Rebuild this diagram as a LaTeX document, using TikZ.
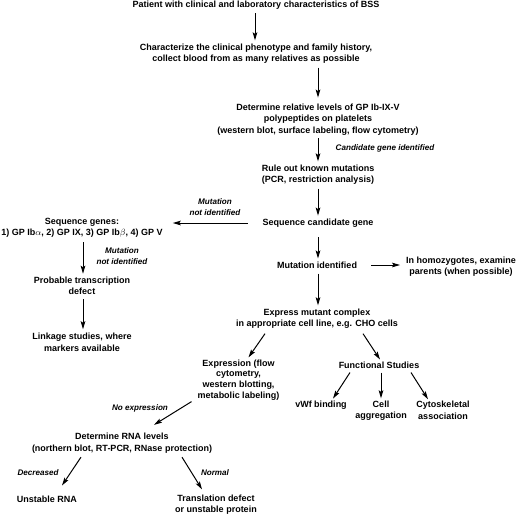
\documentclass[tikz,border=0pt]{standalone}
\usepackage{fontspec}
\setmainfont{Liberation Sans}
\usetikzlibrary{arrows.meta,calc}
\begin{document}
\begin{tikzpicture}[x=1pt,y=-1pt,
  box/.style={font=\fontsize{9}{11.5}\selectfont\bfseries, align=center, inner sep=0pt},
  lbl/.style={font=\fontsize{8.1}{11}\selectfont\bfseries\itshape, align=center, inner sep=0pt},
  arr/.style={line width=1pt, -{Stealth[length=8pt,width=4.6pt,inset=1.5pt]}}]
\useasboundingbox (0,0) rectangle (520,515);
\fill[white] (0,0) rectangle (520,515);

\node[box] (pat) at (256,5) {Patient with clinical and laboratory characteristics of BSS};
\node[box] (chr) at (256,53.5) {Characterize the clinical phenotype and family history,\\collect blood from as many relatives as possible};
\node[box] (det) at (318,119.5) {Determine relative levels of GP Ib-IX-V\\polypeptides on platelets\\(western blot, surface labeling, flow cytometry)};
\node[box] (rule) at (318,174.5) {Rule out known mutations\\(PCR, restriction analysis)};
\node[box] (scg) at (318,223) {Sequence candidate gene};
\node[box] (sg) at (82,228) {Sequence genes:\\1) GP Ib$\alpha$, 2) GP IX, 3) GP Ib$\beta$, 4) GP V};
\node[box] (ptd) at (82,286) {Probable transcription\\defect};
\node[box] (lnk) at (82,342.5) {Linkage studies, where\\markers available};
\node[box] (mid) at (317,265) {Mutation identified};
\node[box] (hom) at (461,266.5) {In homozygotes, examine\\parents (when possible)};
\node[box] (exm) at (317,318.5) {Express mutant complex\\in appropriate cell line, e.g. CHO cells};
\node[box, font=\fontsize{9}{10.8}\selectfont\bfseries] (expr) at (238.5,380) {Expression (flow\\cytometry,\\western blotting,\\metabolic labeling)};
\node[box] (fun) at (379,365) {Functional Studies};
\node[box] (vwf) at (321,405) {vWf binding};
\node[box] (cell) at (381,410.5) {Cell\\aggregation};
\node[box] (cyto) at (443,410.5) {Cytoskeletal\\association};
\node[box] (rna) at (122,443) {Determine RNA levels\\(northern blot, RT-PCR, RNase protection)};
\node[box] (urna) at (47,499) {Unstable RNA};
\node[box] (tdef) at (216,504.5) {Translation defect\\or unstable protein};

\node[lbl] (l1) at (385,148) {Candidate gene identified};
\node[lbl] (l2) at (215,207) {Mutation\\not identified};
\node[lbl] (l3) at (122,256) {Mutation\\not identified};
\node[lbl] (l4) at (140,408) {No expression};
\node[lbl] (l5) at (38,473) {Decreased};
\node[lbl] (l6) at (215,473) {Normal};

\draw[arr] ($(pat.south)+(-1,4)$) -- ($(chr.north)+(-1,-3)$);
\draw[arr] ($(det.north |- chr.south)+(0,4)$) -- ($(det.north)+(0,-6)$);
\draw[arr] ($(det.south)+(0,3)$) -- ($(rule.north)+(0,-3)$);
\draw[arr] ($(rule.south)+(0,4)$) -- ($(scg.north)+(0,-3)$);
\draw[arr] ($(scg.west)+(-15,0)$) -- ($(sg.east |- scg.west)+(10,0)$);
\draw[arr] ($(sg.south)+(1,4)$) -- ($(ptd.north)+(1,-3)$);
\draw[arr] ($(ptd.south)+(1,4)$) -- ($(lnk.north)+(1,-4)$);
\draw[arr] ($(scg.south)+(0,10)$) -- ($(mid.north)+(1,-3)$);
\draw[arr] ($(mid.east)+(14,0)$) -- ($(hom.west |- mid.east)+(-6,0)$);
\draw[arr] ($(mid.south)+(1,5)$) -- ($(exm.north)+(1,-3)$);
\draw[arr] ($(exm.south)+(-52,5)$) -- ($(expr.north)+(10,-2)$);
\draw[arr] ($(exm.south)+(46,5)$) -- ($(fun.north)+(1,-2)$);
\draw[arr] ($(fun.south)+(-29,4)$) -- ($(vwf.north)+(12,-2)$);
\draw[arr] ($(fun.south)+(2,4)$) -- ($(cell.north)+(0,-2)$);
\draw[arr] ($(fun.south)+(32,4)$) -- ($(cyto.north)+(-15,-2)$);
\draw[arr] ($(expr.south)+(-47,1)$) -- ($(rna.north)+(32,-8)$);
\draw[arr] ($(rna.south)+(-41,4)$) -- ($(urna.north)+(15,-10)$);
\draw[arr] ($(rna.south)+(60,4)$) -- ($(tdef.north)+(-14,-5)$);
\end{tikzpicture}
\end{document}
